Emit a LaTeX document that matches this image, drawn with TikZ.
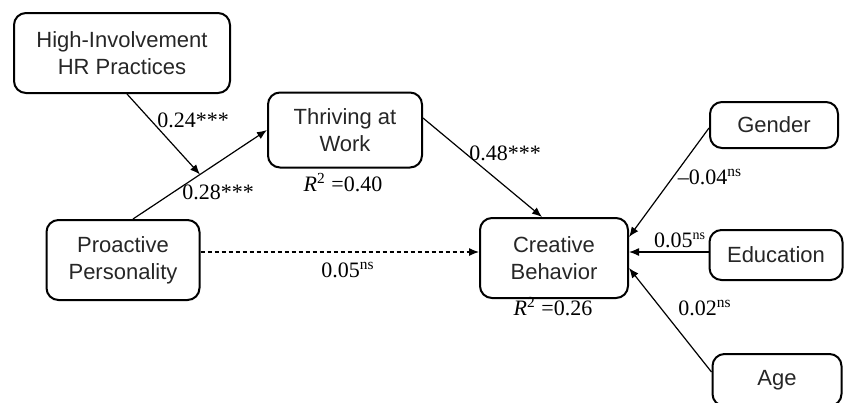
\documentclass[tikz,border=0pt]{standalone}
\usepackage{fontspec}
\setmainfont{Liberation Serif}
\setsansfont{Liberation Sans}
\usepackage{tikz}
\usetikzlibrary{arrows.meta,positioning,calc}

\tikzset{
  var/.style={draw,line width=1pt,rounded corners=6pt,align=center,
    font=\sffamily\fontsize{11}{13.5}\selectfont,text=black!85,inner sep=2pt},
  coef/.style={font=\fontsize{11}{13}\selectfont,inner sep=1pt},
  effect/.style={-{Latex[length=5pt,width=4pt]},line width=0.6pt},
}

\begin{document}
\begin{tikzpicture}[x=0.5pt,y=-0.5pt]
  \useasboundingbox (0,0) rectangle (844,402);
  % variables
  \node[var,minimum width=108pt,minimum height=40pt] (hr) at (122,53) {High-Involvement\\HR Practices};
  \node[var,minimum width=77pt,minimum height=37.5pt] (tw) at (345,130) {Thriving at\\Work};
  \node[var,minimum width=76.5pt,minimum height=40pt] (pp) at (123,260) {Proactive\\Personality};
  \node[var,minimum width=74pt,minimum height=40pt] (cb) at (554,258) {Creative\\Behavior};
  \node[var,minimum width=64pt,minimum height=23pt] (gd) at (774,125) {Gender};
  \node[var,minimum width=66.5pt,minimum height=25pt] (ed) at (776,255) {Education};
  \node[var,minimum width=64.5pt,minimum height=26pt] (ag) at (777,380) {Age};

  % paths
  \draw[effect] ([xshift=5pt]pp.north) -- coordinate[pos=0.5] (mod) (tw.west);
  \draw[effect] ([xshift=2.5pt]hr.south) -- (mod);
  \draw[effect] ([yshift=6pt]tw.east) -- ([xshift=-6pt]cb.north);
  \draw[effect,dash pattern=on 2pt off 1.5pt] ([yshift=4pt]pp.east) -- ([yshift=4pt]pp.east -| cb.west);
  \draw[effect] ([yshift=-1.5pt]gd.west) -- ([yshift=10.5pt]cb.east);
  \draw[effect] ([yshift=1.5pt]ed.west) -- ([yshift=1.5pt]ed.west -| cb.east);
  \draw[effect] ([yshift=4pt]ag.west) -- ([yshift=-5pt]cb.east);

  % coefficients
  \node[coef] (c1) at (193,120) {0.24***};
  \node[coef] (c2) at (218,192) {0.28***};
  \node[coef] (c3) at (505,153) {0.48***};
  \node[coef] (c4) at (348,270) {0.05\textsuperscript{ns}};
  \node[coef] (c5) at (710,177) {–0.04\textsuperscript{ns}};
  \node[coef] (c6) at (680,240) {0.05\textsuperscript{\scriptsize ns}};
  \node[coef] (c7) at (705,308) {0.02\textsuperscript{ns}};
  \node[coef] (r1) at (343,183) {\textit{R}\textsuperscript{2} =0.40};
  \node[coef] (r2) at (553,307) {\textit{R}\textsuperscript{2} =0.26};
\end{tikzpicture}
\end{document}
